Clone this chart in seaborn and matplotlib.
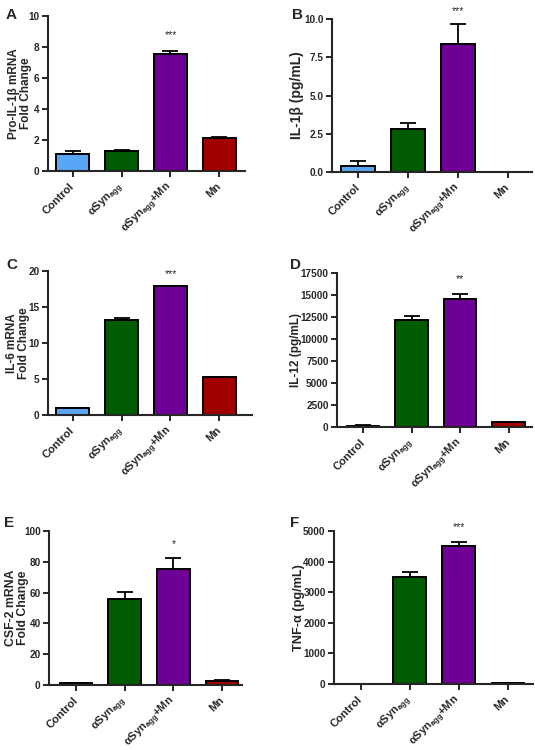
import matplotlib
matplotlib.use("Agg")
import matplotlib.pyplot as plt
import numpy as np
import pandas as pd
import seaborn as sns

sns.set_style("ticks")
plt.rcParams["font.family"] = ["Liberation Sans", "DejaVu Sans"]
plt.rcParams["font.weight"] = "bold"
plt.rcParams["mathtext.default"] = "regular"

groups = ["Control", "αSyn$_{agg}$", "αSyn$_{agg}$+Mn", "Mn"]
colors = ["#5aa6f6", "#005a00", "#6f0096", "#a00000"]

il1b_mrna = [1.10, 1.28, 7.55, 2.11]
il1b_mrna_err = [0.21, 0.05, 0.21, 0.10]
il1b_prot = [0.38, 2.79, 8.37, 0.0]
il1b_prot_err = [0.34, 0.39, 1.30, 0.0]
il6_mrna = [1.0, 13.25, 17.85, 5.28]
il6_mrna_err = [0.02, 0.20, 0.06, 0.03]
il12_prot = [150, 12160, 14510, 560]
il12_prot_err = [30, 440, 600, 40]
csf2_mrna = [1.0, 55.8, 75.5, 2.8]
csf2_mrna_err = [0.2, 4.8, 6.8, 0.5]
tnfa_prot = [10, 3500, 4520, 30]
tnfa_prot_err = [0, 145, 120, 5]

stars = ["***", "***", "***", "**", "*", "***"]
star_y = [8.75, 10.55, 19.6, 16800, 91.5, 5130]

panels = [
    # letter, ylabel, values, errors, ymax, ystep, tick format
    ("A", "Pro-IL-1β mRNA\nFold Change", il1b_mrna, il1b_mrna_err, 10, 2, "{:.0f}"),
    ("B", "IL-1β (pg/mL)", il1b_prot, il1b_prot_err, 10, 2.5, "{:.1f}"),
    ("C", "IL-6 mRNA\nFold Change", il6_mrna, il6_mrna_err, 20, 5, "{:.0f}"),
    ("D", "IL-12 (pg/mL)", il12_prot, il12_prot_err, 17500, 2500, "{:.0f}"),
    ("E", "CSF-2 mRNA\nFold Change", csf2_mrna, csf2_mrna_err, 100, 20, "{:.0f}"),
    ("F", "TNF-α (pg/mL)", tnfa_prot, tnfa_prot_err, 5000, 1000, "{:.0f}"),
]

# axis geometry in pixels: left, right, first tick, tick spacing, top, bottom
geom = [
    (48, 245, 72.7, 48.9, 16, 171),
    (332, 532, 358, 50.0, 19, 172),
    (48, 252, 72.7, 48.9, 271, 415),
    (337, 532, 363, 48.5, 273, 427),
    (49, 242, 76, 48.7, 531, 685),
    (334, 533, 360.7, 49.1, 531, 684),
]
ylabel_x = [20, 297, 18, 296, 17, 299]
ylabel_size = [8.5, 10, 8.5, 8.5, 8.8, 9.2]
letter_pos = [(6, 8), (292, 8), (6, 258), (290, 258), (4, 516), (290, 516)]
narrow = ["Liberation Sans Narrow", "Liberation Sans", "DejaVu Sans"]

W, H = 535, 750
fig = plt.figure(figsize=(W / 100, H / 100), dpi=100)

for i, (letter, ylab, vals, errs, ymax, ystep, fmt) in enumerate(panels):
    L, R, T0, S, top, bot = geom[i]
    ax = fig.add_axes([L / W, 1 - bot / H, (R - L) / W, (bot - top) / H])
    df = pd.DataFrame({"group": groups, "value": vals})
    sns.barplot(data=df, x="group", y="value", hue="group", palette=colors,
                legend=False, errorbar=None, width=0.67, edgecolor="black",
                linewidth=1.4, saturation=1, ax=ax, zorder=2)
    x = np.arange(len(groups))
    ax.errorbar(x, vals, yerr=[np.zeros(len(vals)), errs], fmt="none",
                ecolor="black", elinewidth=1.3, capsize=6, capthick=1.3, zorder=1)
    ax.text(2, star_y[i], stars[i], ha="center", va="center", fontsize=7.5,
            fontweight="normal", clip_on=False)
    ax.set_xlim((L - T0) / S, (R - T0) / S)
    ax.set_ylim(0, ymax)
    yt = np.arange(0, ymax + ystep / 2, ystep)
    ax.set_yticks(yt)
    ax.set_yticklabels([fmt.format(v) for v in yt], fontsize=7.2,
                       fontweight="bold", family=narrow)
    ax.set_xticks(x)
    ax.set_xticklabels(groups, rotation=45, ha="right", va="center",
                       rotation_mode="anchor", fontsize=8, fontweight="bold")
    ax.tick_params(axis="x", pad=6)
    ax.tick_params(axis="y", pad=2)
    ax.set_xlabel("")
    ax.set_ylabel(ylab, fontsize=ylabel_size[i], fontweight="bold",
                  linespacing=1.0, va="center")
    ax.yaxis.set_label_coords((ylabel_x[i] - L) / (R - L), 0.5)
    ax.tick_params(width=1.4, length=4, direction="out")
    sns.despine(ax=ax)
    for sp in ["left", "bottom"]:
        ax.spines[sp].set_linewidth(1.5)
    fig.text(letter_pos[i][0] / W, 1 - letter_pos[i][1] / H, letter,
             fontsize=11, fontweight="bold", ha="left", va="top")

fig.savefig("out.png", dpi=100)
